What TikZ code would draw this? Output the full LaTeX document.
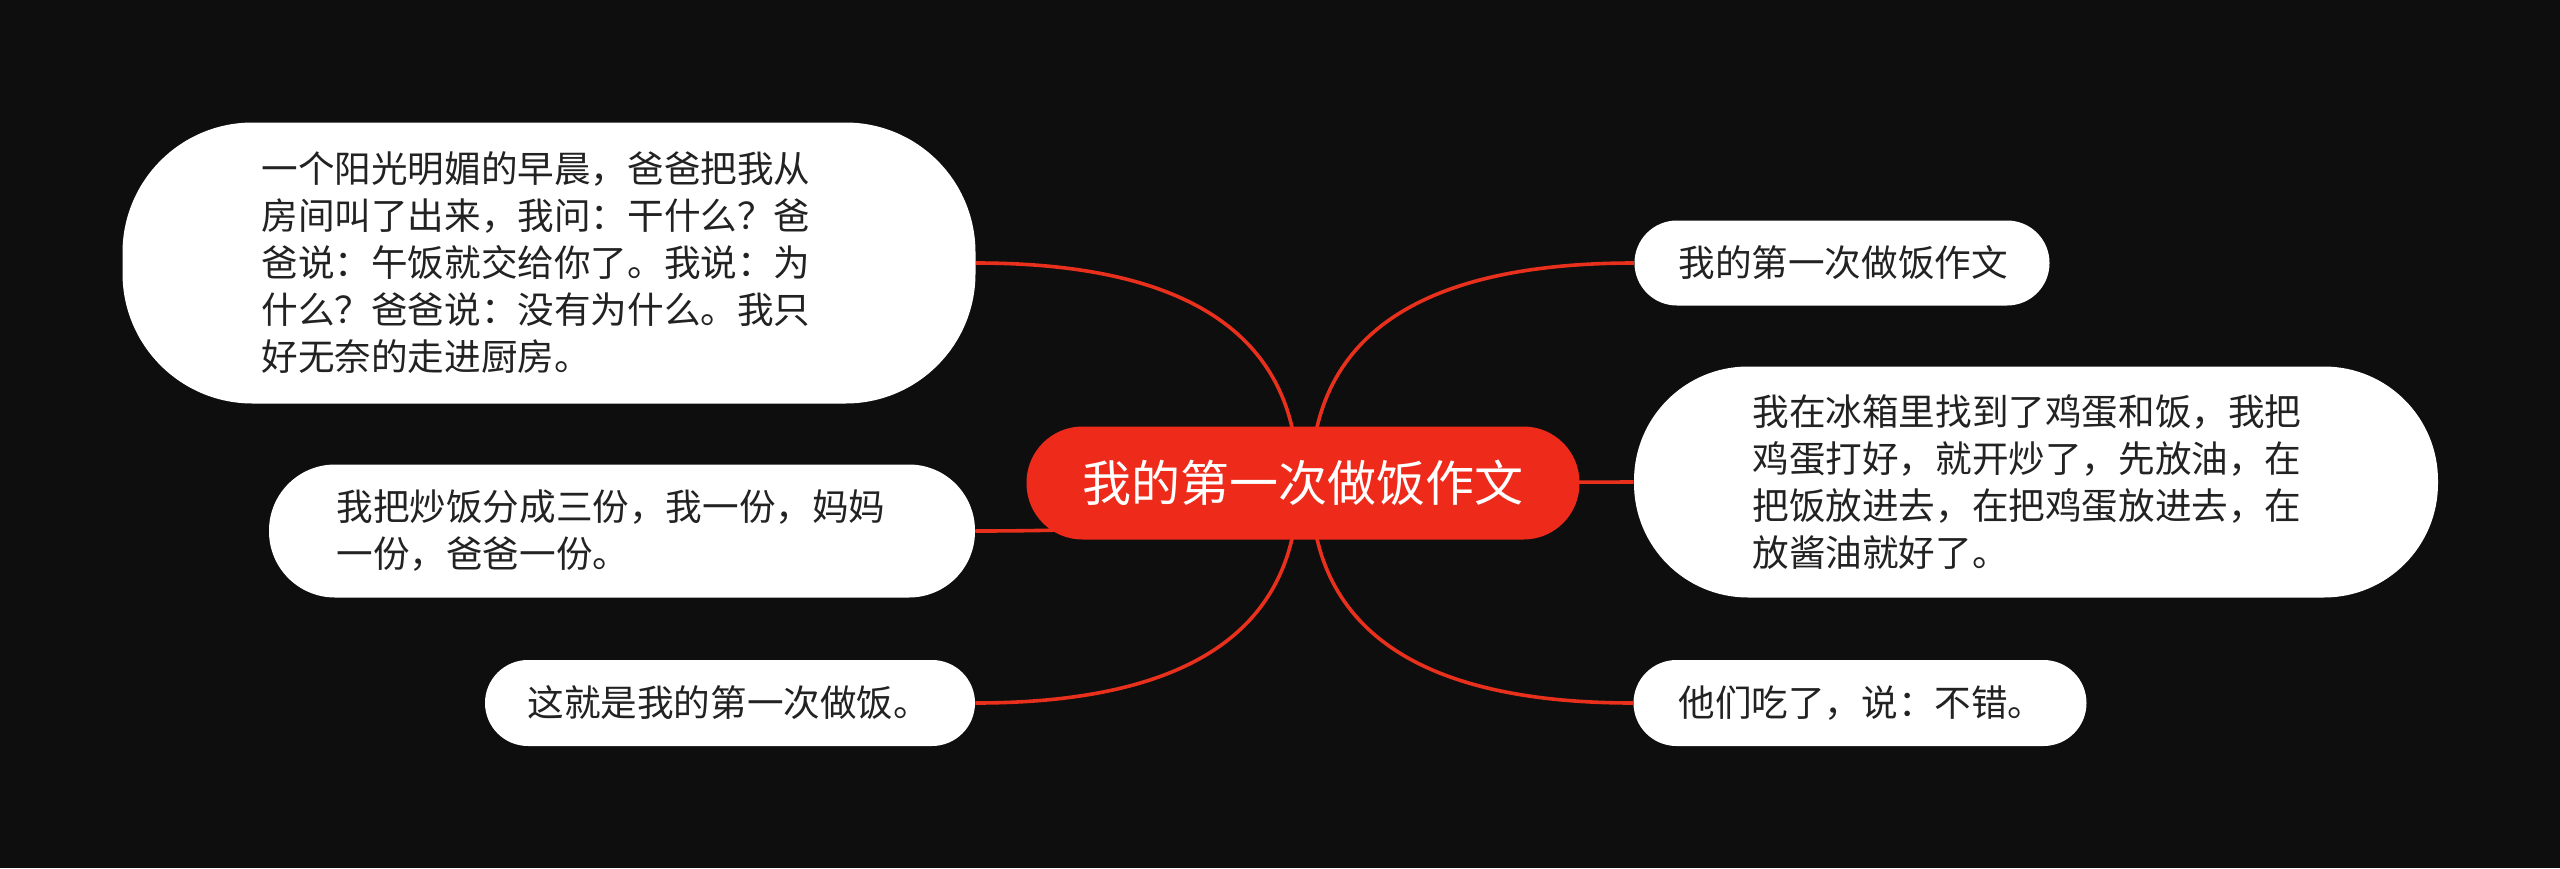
\documentclass[tikz,border=0pt]{standalone}
\usepackage{fontspec}
\newfontfamily\cjk{Noto Sans CJK SC}
\definecolor{bgc}{HTML}{0E0E0E}
\definecolor{redc}{HTML}{EE2A1B}
\definecolor{linkc}{HTML}{E8301C}
\definecolor{txtc}{HTML}{222222}
\pgfdeclarelayer{bglayer}
\pgfdeclarelayer{linklayer}
\pgfsetlayers{bglayer,linklayer,main}
\tikzset{
  leaf/.style={fill=white, inner sep=0pt},
  leaftext/.style={inner sep=0pt, anchor=west, text=txtc, align=left,
    font=\cjk\fontsize{18.3}{23.5}\selectfont},
  root/.style={fill=redc, inner sep=0pt, text=white,
    font=\cjk\fontsize{24.5}{28}\selectfont, rounded corners=28pt,
    minimum width=276.5pt, minimum height=56.5pt},
  link/.style={draw=linkc, line width=1.8pt}
}
\begin{document}
\begin{tikzpicture}[x=0.5pt,y=-0.5pt]
\useasboundingbox (0,0) rectangle (2560,868);
\begin{pgfonlayer}{bglayer}
\fill[bgc] (0,0) rectangle (2560,868);
\end{pgfonlayer}
\node[root] (c) at (1303,483) {我的第一次做饭作文};
% boxes
\node[leaf, minimum width=426.5pt, minimum height=140.5pt, rounded corners=65pt] (b1) at (549,263) {};
\node[leaf, minimum width=353pt, minimum height=66.5pt, rounded corners=33pt] (b2) at (622,531) {};
\node[leaf, minimum width=245pt, minimum height=43pt, rounded corners=21.5pt] (b3) at (730,703) {};
\node[leaf, minimum width=207.5pt, minimum height=42.5pt, rounded corners=21.2pt] (b4) at (1842,263) {};
\node[leaf, minimum width=402pt, minimum height=115.5pt, rounded corners=57pt] (b5) at (2036,482) {};
\node[leaf, minimum width=226.5pt, minimum height=43pt, rounded corners=21.5pt] (b6) at (1860,703) {};
% texts
\node[leaftext] (t1) at (261,263)
  {一个阳光明媚的早晨，爸爸把我从\\房间叫了出来，我问：干什么？爸\\爸说：午饭就交给你了。我说：为\\什么？爸爸说：没有为什么。我只\\好无奈的走进厨房。};
\node[leaftext] (t2) at (336,531)
  {我把炒饭分成三份，我一份，妈妈\\一份，爸爸一份。};
\node[leaftext] (t3) at (527,703) {这就是我的第一次做饭。};
\node[leaftext] (t4) at (1678,263) {我的第一次做饭作文};
\node[leaftext] (t5) at (1752,482)
  {我在冰箱里找到了鸡蛋和饭，我把\\鸡蛋打好，就开炒了，先放油，在\\把饭放进去，在把鸡蛋放进去，在\\放酱油就好了。};
\node[leaftext] (t6) at (1678,703) {他们吃了，说：不错。};
\coordinate (cL) at (1298,483);
\coordinate (cR) at (1311,483);
\begin{pgfonlayer}{linklayer}
\draw[link] (cL) .. controls (1298,330) and (1180,263) .. (b1.east);
\draw[link] (cL) .. controls (1298,516) and (1180,531) .. (b2.east);
\draw[link] (cL) .. controls (1298,636) and (1180,703) .. (b3.east);
\draw[link] (cR) .. controls (1311,330) and (1429,263) .. (b4.west);
\draw[link] (cR) -- (b5.west);
\draw[link] (cR) .. controls (1311,636) and (1429,703) .. (b6.west);
\end{pgfonlayer}
\end{tikzpicture}
\end{document}
